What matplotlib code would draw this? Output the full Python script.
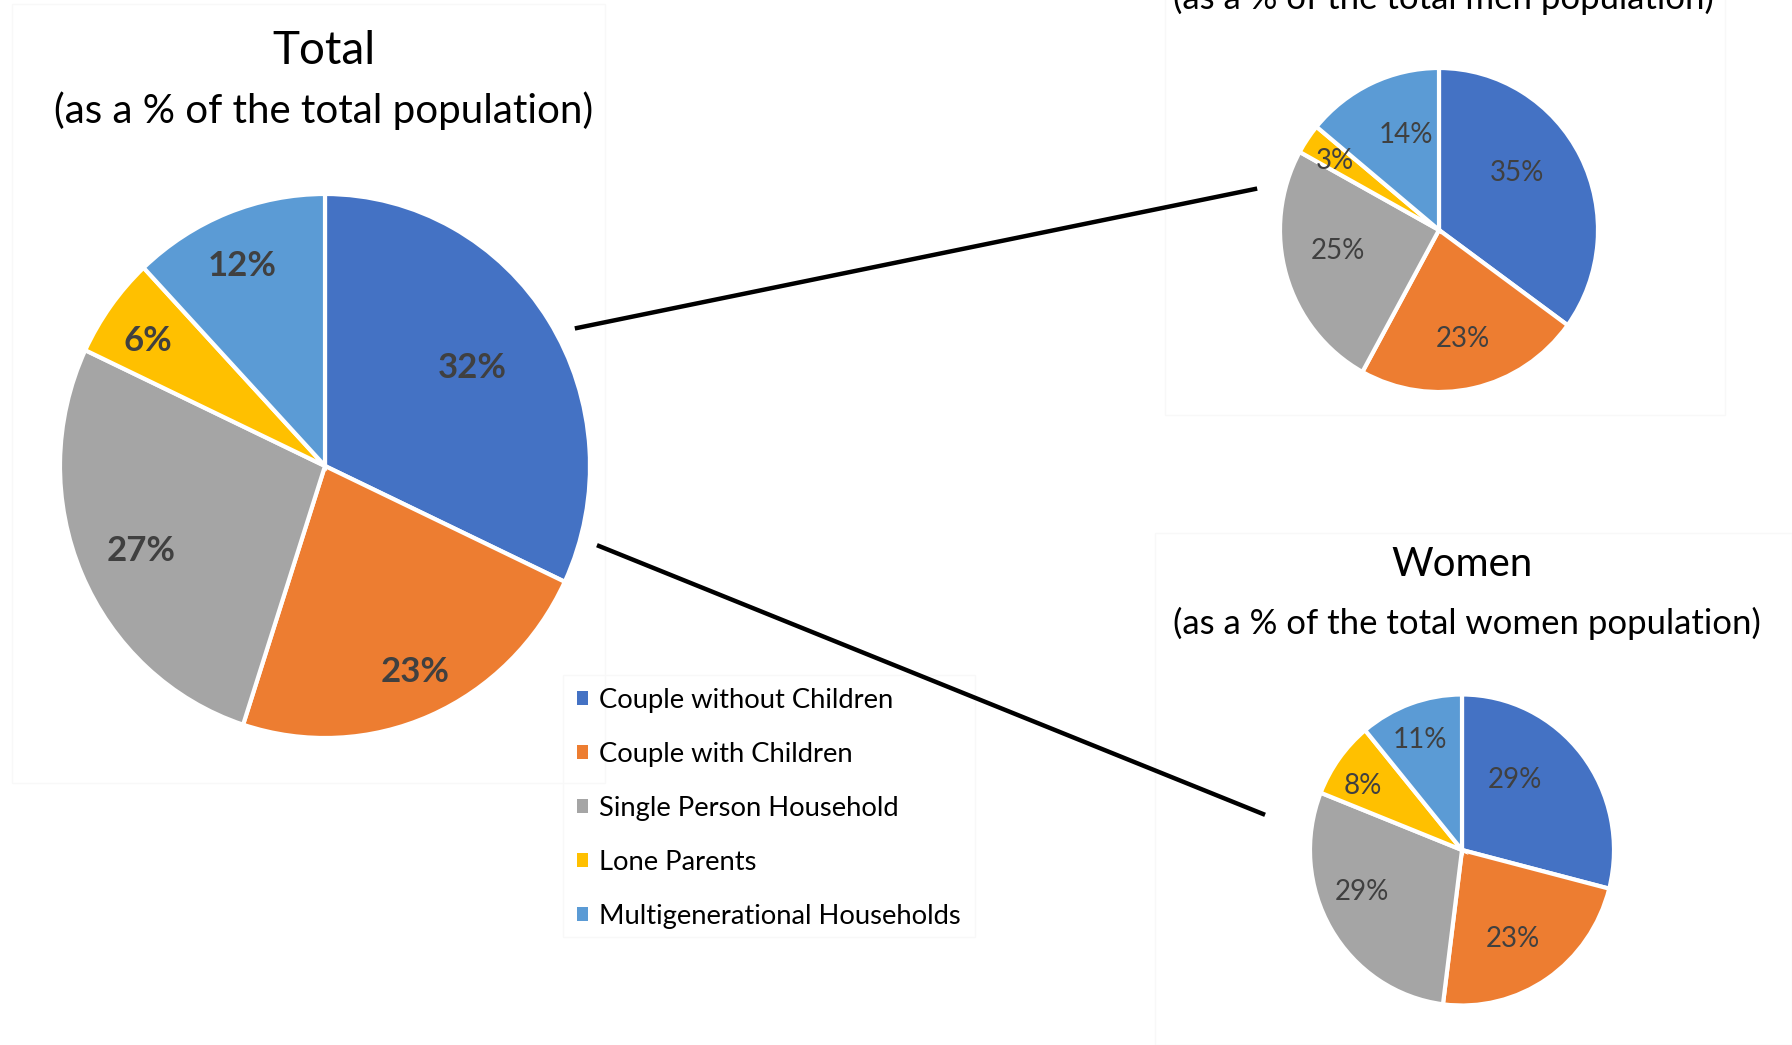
import matplotlib
matplotlib.use("Agg")
import matplotlib.pyplot as plt
import numpy as np
from matplotlib.patches import Rectangle
from matplotlib.lines import Line2D

plt.rcParams['font.family'] = ['Lato', 'DejaVu Sans']

categories = ["Couple without Children", "Couple with Children",
              "Single Person Household", "Lone Parents",
              "Multigenerational Households"]
total_values = [32, 23, 27, 6, 12]
men_values = [35, 23, 25, 3, 14]
women_values = [29, 23, 29, 8, 11]
colors = ["#4472C4", "#ED7D31", "#A5A5A5", "#FFC000", "#5B9BD5"]

W, H = 1792, 1045
fig = plt.figure(figsize=(W / 100, H / 100), dpi=100)
fig.patch.set_facecolor("white")


def px_axes(cx, cy, rx, ry):
    return fig.add_axes([(cx - rx) / W, (H - cy - ry) / H, 2 * rx / W, 2 * ry / H])


def draw_pie(ax, values, dists, offs, fsize, weight):
    wedges, _ = ax.pie(values, colors=colors, startangle=90, counterclock=False,
                       wedgeprops=dict(edgecolor="white", linewidth=3))
    for w, v, d, o in zip(wedges, values, dists, offs):
        ang = np.deg2rad((w.theta1 + w.theta2) / 2 + o)
        ax.text(d * np.cos(ang), d * np.sin(ang), f"{v}%", ha="center", va="center",
                fontsize=fsize, fontweight=weight, color="#404040")
    ax.set_xlim(-1.0, 1.0)
    ax.set_ylim(-1.0, 1.0)
    ax.set_aspect("auto")
    ax.axis("off")
    return wedges


# faint panel borders
for (x0, y0, x1, y1) in [(12, 4, 605, 783), (1165, -10, 1725, 415),
                         (1155, 533, 1792, 1045), (563, 675, 975, 937)]:
    fig.patches.append(Rectangle((x0 / W, 1 - y1 / H), (x1 - x0) / W, (y1 - y0) / H,
                                 transform=fig.transFigure, fill=False,
                                 edgecolor="#f8f8f8", linewidth=1))

ax_t = px_axes(325, 466, 265, 272)
draw_pie(ax_t, total_values, [0.66, 0.83, 0.76, 0.81, 0.80], [0.5, 0.9, 0.8, 1.4, 1.5],
         25, "bold")

ax_m = px_axes(1439, 230, 159, 162)
draw_pie(ax_m, men_values, [0.60, 0.69, 0.65, 0.78, 0.62], [8.6, 0, -4.5, 1, -5.5],
         20, "normal")

ax_w = px_axes(1462, 850, 152, 155.5)
draw_pie(ax_w, women_values, [0.57, 0.66, 0.71, 0.77, 0.76], [14.6, -3.9, -8.5, 3.8, 1.7],
         20, "normal")

# titles
fig.text(324 / W, 1 - 51 / H, "Total", ha="center", va="center", fontsize=33, color="#000000")
fig.text(324 / W, 1 - 111 / H, "(as a % of the total population)", ha="center", va="center",
         fontsize=29, color="#000000")
fig.text(1443 / W, 1 + 2 / H, "(as a % of the total men population)", ha="center", va="center",
         fontsize=25, color="#000000")
fig.text(1462 / W, 1 - 564 / H, "Women", ha="center", va="center", fontsize=29, color="#000000")
fig.text(1467 / W, 1 - 623 / H, "(as a % of the total women population)", ha="center",
         va="center", fontsize=25, color="#000000")

# connector lines
fig.lines.append(Line2D([577 / W, 1255 / W], [1 - 328 / H, 1 - 189 / H],
                        transform=fig.transFigure, color="black", linewidth=3.2))
fig.lines.append(Line2D([599 / W, 1263 / W], [1 - 546 / H, 1 - 814 / H],
                        transform=fig.transFigure, color="black", linewidth=3.2))

# legend
handles = [Rectangle((0, 0), 1, 1, facecolor=c, edgecolor="none") for c in colors]
leg = fig.legend(handles, categories, loc="upper left",
                 bbox_to_anchor=(566 / W, 1 - 677 / H), frameon=False,
                 fontsize=19.7, handlelength=0.42, handleheight=0.42, handletextpad=0.4,
                 labelspacing=1.06, borderaxespad=0)

fig.savefig("out.png", dpi=100, facecolor="white")
